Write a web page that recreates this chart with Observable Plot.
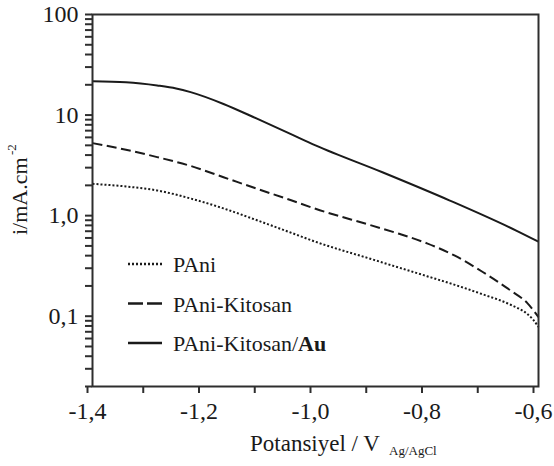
<!DOCTYPE html>
<html>
<head>
<meta charset="utf-8">
<script src="https://cdn.jsdelivr.net/npm/d3@7"></script>
<script src="https://cdn.jsdelivr.net/npm/@observablehq/plot@0.6"></script>
<style>
  html, body { margin: 0; padding: 0; background: #fff; }
  #chart { width: 554px; height: 466px; }
</style>
</head>
<body>
<div id="chart"></div>
<script>
// ---- Data ----
const seriesNames = ["PAni", "PAni-Kitosan", "PAni-Kitosan/Au"];

const pAniX = [-1.4, -1.34, -1.284, -1.224, -1.165, -1.105, -1.045, -1.0, -0.9, -0.8, -0.75, -0.7, -0.65, -0.62, -0.61, -0.6];
const pAniY = [2.07, 1.95, 1.78, 1.48, 1.18, 0.90, 0.68, 0.55, 0.37, 0.25, 0.205, 0.165, 0.13, 0.105, 0.093, 0.078];

const kitosanX = [-1.4, -1.34, -1.284, -1.224, -1.165, -1.105, -1.045, -1.0, -0.9, -0.85, -0.8, -0.75, -0.7, -0.65, -0.62, -0.6];
const kitosanY = [5.26, 4.52, 3.82, 3.12, 2.41, 1.85, 1.43, 1.17, 0.80, 0.66, 0.53, 0.40, 0.275, 0.18, 0.135, 0.098];

const auX = [-1.4, -1.34, -1.284, -1.25, -1.224, -1.165, -1.105, -1.045, -1.0, -0.88, -0.76, -0.64, -0.6];
const auY = [21.7, 21.2, 19.7, 18.4, 16.9, 12.9, 9.2, 6.5, 5.0, 2.7, 1.42, 0.71, 0.55];

const xTicks = [-1.4, -1.3, -1.2, -1.1, -1.0, -0.9, -0.8, -0.7, -0.6];
const xTickLabels = ["-1,4", "", "-1,2", "", "-1,0", "", "-0,8", "", "-0,6"];

const yMajorTicks = [0.1, 1, 10, 100];
const yMajorLabels = ["0,1", "1,0", "10", "100"];
const yMinorTicks = [0.02, 0.03, 0.04, 0.05, 0.06, 0.07, 0.08, 0.09,
                     0.2, 0.3, 0.4, 0.5, 0.6, 0.7, 0.8, 0.9,
                     2, 3, 4, 5, 6, 7, 8, 9,
                     20, 30, 40, 50, 60, 70, 80, 90];

const toRows = (xs, ys, name) => xs.map((x, i) => ({x, y: ys[i], name}));
const pAni = toRows(pAniX, pAniY, seriesNames[0]);
const kitosan = toRows(kitosanX, kitosanY, seriesNames[1]);
const au = toRows(auX, auY, seriesNames[2]);

const ink = "#1a1a1a";
const axisInk = "#2e2e2e";
const font = "Liberation Serif";

const xLabelOf = d => {
  const i = xTicks.findIndex(t => Math.abs(t - d) < 1e-9);
  return i >= 0 ? xTickLabels[i] : "";
};
const yLabelOf = d => {
  const i = yMajorTicks.findIndex(t => Math.abs(t - d) < 1e-9 * Math.max(1, t));
  return i >= 0 ? yMajorLabels[i] : "";
};

const lineOpts = {x: "x", y: "y", curve: "monotone-x", stroke: ink, strokeWidth: 2, strokeLinecap: "butt"};

const plot = Plot.plot({
  width: 554,
  height: 466,
  marginLeft: 92,
  marginRight: 16,
  marginTop: 14,
  marginBottom: 80,
  style: {fontFamily: font, fontSize: "24px", color: ink, background: "#fff"},
  x: {domain: [-1.4, -0.6]},
  y: {type: "log", domain: [0.02, 100]},
  marks: [
    Plot.line(pAni, {...lineOpts, strokeDasharray: "2,2"}),
    Plot.line(kitosan, {...lineOpts, strokeDasharray: "10,4.5"}),
    Plot.line(au, {...lineOpts}),
    Plot.axisX({ticks: xTicks, tickFormat: xLabelOf, tickSize: 7, tickPadding: 8, strokeWidth: 2, stroke: axisInk, label: null, fontSize: 24, fontFamily: font, dx: -5}),
    Plot.axisY({ticks: yMinorTicks, tickFormat: () => "", tickSize: 7, strokeWidth: 2, stroke: axisInk, label: null}),
    Plot.axisY({ticks: yMajorTicks, tickFormat: yLabelOf, tickSize: 7, tickPadding: 7, strokeWidth: 2, stroke: axisInk, label: null, fontSize: 24, fontFamily: font}),
    Plot.frame({stroke: axisInk, strokeWidth: 2})
  ]
});

document.getElementById("chart").appendChild(plot);

// ---- Axis titles and legend (real SVG text) ----
const svg = d3.select(plot);
const addText = (attrs, str) => {
  const t = svg.append("text")
    .attr("font-family", font).attr("fill", ink).attr("text-anchor", "start");
  Object.entries(attrs).forEach(([k, v]) => t.attr(k, v));
  if (str !== undefined) t.text(str);
  return t;
};

// x-axis title
addText({x: 250, y: 451, "font-size": 23}, "Potansiyel / V");
addText({x: 389, y: 455, "font-size": 13}, "Ag/AgCl");

// y-axis title
addText({transform: "translate(27,235) rotate(-90)", "font-size": 22}, "i/mA.cm");
addText({transform: "translate(16,155) rotate(-90)", "font-size": 13}, "-2");

// legend
const legendRows = [264, 303.5, 343];
const legendDash = ["2,2", "15,4", null];
seriesNames.forEach((name, i) => {
  const y = legendRows[i];
  svg.append("line")
    .attr("x1", 128).attr("x2", 162).attr("y1", y).attr("y2", y)
    .attr("stroke", ink).attr("stroke-width", 2.4)
    .attr("stroke-dasharray", legendDash[i]);
  const t = addText({x: 173, y: y + 8, "font-size": 22});
  if (name.endsWith("/Au")) {
    t.append("tspan").text(name.slice(0, -2));
    t.append("tspan").attr("font-weight", "bold").text("Au");
  } else {
    t.text(name);
  }
});
</script>
</body>
</html>
